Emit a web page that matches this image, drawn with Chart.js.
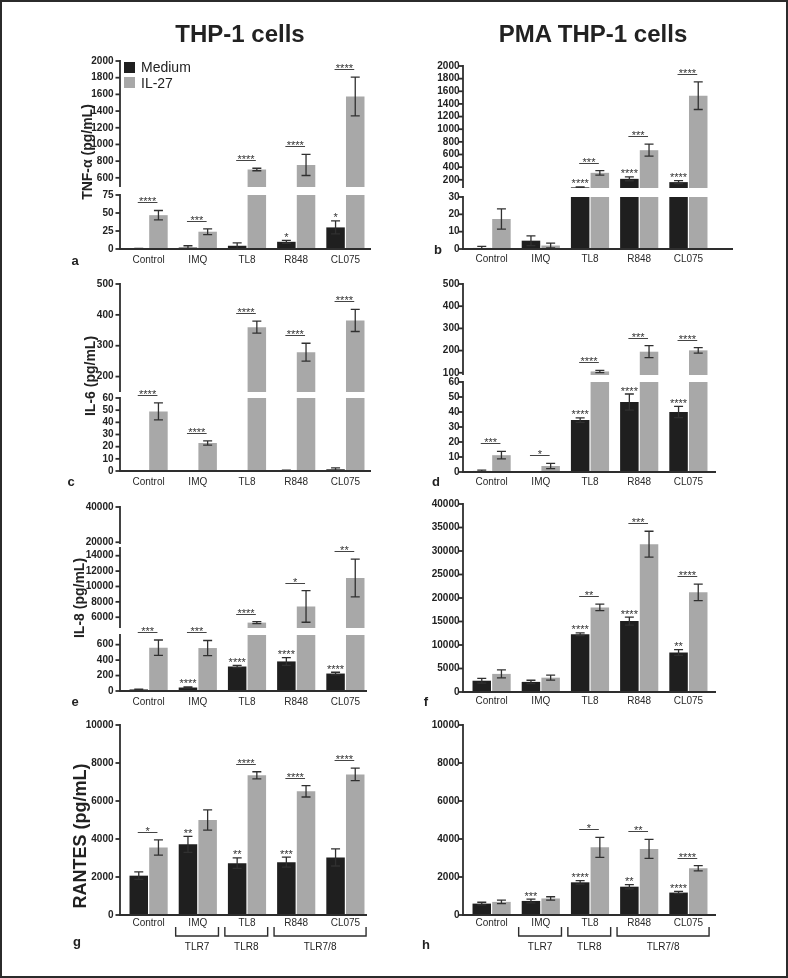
<!DOCTYPE html>
<html><head><meta charset="utf-8">
<script src="https://cdn.jsdelivr.net/npm/chart.js@4.4.1/dist/chart.umd.min.js"></script>
<style>
html,body{margin:0;padding:0;background:#fff;}
#page{position:relative;width:788px;height:978px;overflow:hidden;font-family:"Liberation Sans",Arial,Helvetica,sans-serif;color:#222;background:#fff;}
#frame{position:absolute;left:0;top:0;width:788px;height:978px;box-sizing:border-box;border:2px solid #2b2b2b;pointer-events:none;}
canvas{position:absolute;}
.t{position:absolute;white-space:nowrap;line-height:1;}
.c{transform:translate(-50%,-50%);}
.r{transform:translate(-50%,-50%) rotate(-90deg);}
</style></head><body><div id="page"><div id="frame"></div></div>
<script>
// ---------- data ----------
const categories = ['Control', 'IMQ', 'TL8', 'R848', 'CL075'];
const seriesNames = ['Medium', 'IL-27'];
const columnTitles = ['THP-1 cells', 'PMA THP-1 cells'];

// a: TNF-alpha, THP-1
const aMedium = [0.5, 2, 4.5, 10, 30];
const aMediumErr = [0.3, 2.5, 4, 2, 9];
const aIL27 = [47, 24, 700, 755, 1575];
const aIL27Err = [6.5, 4, 15, 127, 232];
const aMedSig = ['', '', '', '*', '*'];
const aPairSig = ['****', '***', '****', '****', '****'];
const aUpperTicks = [600, 800, 1000, 1200, 1400, 1600, 1800, 2000];
const aLowerTicks = [0, 25, 50, 75];

// b: TNF-alpha, PMA THP-1
const bMedium = [0.6, 4.8, 80, 215, 163];
const bMediumErr = [0.9, 2.8, 6, 30, 25];
const bIL27 = [17.3, 2, 310, 668, 1530];
const bIL27Err = [5.8, 1.4, 35, 95, 218];
const bMedSig = ['', '', '****', '****', '****'];
const bPairSig = ['', '', '***', '***', '****'];
const bUpperTicks = [200, 400, 600, 800, 1000, 1200, 1400, 1600, 1800, 2000];
const bLowerTicks = [0, 10, 20, 30];

// c: IL-6, THP-1
const cMedium = [0, 0, 0, 0.4, 1.4];
const cMediumErr = [0, 0, 0, 0.3, 1.2];
const cIL27 = [49, 23, 360, 279, 382];
const cIL27Err = [7, 1.7, 19.5, 29, 36];
const cMedSig = ['', '', '', '', ''];
const cPairSig = ['****', '****', '****', '****', '****'];
const cUpperTicks = [200, 300, 400, 500];
const cLowerTicks = [0, 10, 20, 30, 40, 50, 60];

// d: IL-6, PMA THP-1
const dMedium = [0.7, 0, 34.6, 46.6, 40];
const dMediumErr = [0.6, 0, 1.5, 5.4, 3.7];
const dIL27 = [11.2, 4, 106, 195, 201];
const dIL27Err = [2.5, 1.7, 5, 27, 12];
const dMedSig = ['', '', '****', '****', '****'];
const dPairSig = ['***', '*', '****', '***', '****'];
const dUpperTicks = [100, 200, 300, 400, 500];
const dLowerTicks = [0, 10, 20, 30, 40, 50, 60];

// e: IL-8, THP-1
const eMedium = [20, 45, 317, 383, 226];
const eMediumErr = [3, 8, 15, 50, 17];
const eIL27 = [560, 556, 5300, 7400, 11100];
const eIL27Err = [100, 98, 130, 2050, 2450];
const eMedSig = ['', '****', '****', '****', '****'];
const ePairSig = ['***', '***', '****', '*', '**'];
const eTopTicks = [20000, 40000];
const eMidTicks = [6000, 8000, 10000, 12000, 14000];
const eLowTicks = [0, 200, 400, 600];

// f: IL-8, PMA THP-1
const fMedium = [2400, 2150, 12300, 15100, 8400];
const fMediumErr = [500, 350, 280, 850, 620];
const fIL27 = [3850, 3050, 18000, 31450, 21200];
const fIL27Err = [850, 530, 700, 2750, 1750];
const fMedSig = ['', '', '****', '****', '**'];
const fPairSig = ['', '', '**', '***', '****'];
const fTicks = [0, 5000, 10000, 15000, 20000, 25000, 30000, 35000, 40000];

// g: RANTES, THP-1
const gMedium = [2070, 3720, 2730, 2780, 3030];
const gMediumErr = [195, 420, 280, 265, 450];
const gIL27 = [3550, 5000, 7350, 6510, 7400];
const gIL27Err = [400, 530, 190, 300, 330];
const gMedSig = ['', '**', '**', '***', ''];
const gPairSig = ['*', '', '****', '****', '****'];
const gTicks = [0, 2000, 4000, 6000, 8000, 10000];

// h: RANTES, PMA THP-1
const hMedium = [600, 740, 1720, 1490, 1180];
const hMediumErr = [70, 100, 90, 110, 60];
const hIL27 = [690, 870, 3560, 3480, 2460];
const hIL27Err = [90, 90, 530, 500, 140];
const hMedSig = ['', '***', '****', '**', '****'];
const hPairSig = ['', '', '*', '**', '****'];
const hTicks = [0, 2000, 4000, 6000, 8000, 10000];

// receptor brackets under g and h
const bracketLabels = ['TLR7', 'TLR8', 'TLR7/8'];
const bracketStart = [1, 2, 3];
const bracketEnd = [1, 2, 4];

const yTitles = ['TNF-α (pg/mL)', 'IL-6 (pg/mL)', 'IL-8 (pg/mL)', 'RANTES (pg/mL)'];
const panelLetters = ['a', 'b', 'c', 'd', 'e', 'f', 'g', 'h'];

// ---------- styling / layout ----------
const FONT = "'Liberation Sans', Arial, Helvetica, sans-serif";
const MED_COLOR = '#1f1f1f';
const IL_COLOR = '#a8a8a8';
const ERR_COLOR = '#303030';
const AXIS_COLOR = '#2e2e2e';
const TEXT_COLOR = '#222';

const COLS = [
  {cx: 55, cw: 325, chartLeft: 124, chartRight: 370, yPad: 10.5, gap: 4},
  {cx: 400, cw: 345, chartLeft: 467, chartRight: 713, yPad: 7.5, gap: 4}
];

const panels = [
  {col: 0, medium: aMedium, mediumErr: aMediumErr, il27: aIL27, il27Err: aIL27Err, medSig: aMedSig, pairSig: aPairSig, xPad: 5.5, xEnd: 371,
   sections: [{min: 490, max: 2000, ticks: aUpperTicks, top: 61, bottom: 187}, {min: 0, max: 75, ticks: aLowerTicks, top: 195, bottom: 249, xAxis: true}]},
  {col: 1, medium: bMedium, mediumErr: bMediumErr, il27: bIL27, il27Err: bIL27Err, medSig: bMedSig, pairSig: bPairSig, xPad: 4, xEnd: 733,
   sections: [{min: 70, max: 2000, ticks: bUpperTicks, top: 66, bottom: 188}, {min: 0, max: 30, ticks: bLowerTicks, top: 197, bottom: 249, xAxis: true}]},
  {col: 0, medium: cMedium, mediumErr: cMediumErr, il27: cIL27, il27Err: cIL27Err, medSig: cMedSig, pairSig: cPairSig, xPad: 5.5, xEnd: 371,
   sections: [{min: 150, max: 500, ticks: cUpperTicks, top: 284, bottom: 392}, {min: 0, max: 60, ticks: cLowerTicks, top: 398, bottom: 471, xAxis: true}]},
  {col: 1, medium: dMedium, mediumErr: dMediumErr, il27: dIL27, il27Err: dIL27Err, medSig: dMedSig, pairSig: dPairSig, xPad: 4, xEnd: 716,
   sections: [{min: 90, max: 500, ticks: dUpperTicks, top: 284, bottom: 375}, {min: 0, max: 60, ticks: dLowerTicks, top: 382, bottom: 472, xAxis: true}]},
  {col: 0, medium: eMedium, mediumErr: eMediumErr, il27: eIL27, il27Err: eIL27Err, medSig: eMedSig, pairSig: ePairSig, xPad: 5.5, xEnd: 367,
   sections: [{min: 19000, max: 40000, ticks: eTopTicks, top: 507, bottom: 544}, {min: 4600, max: 15000, ticks: eMidTicks, top: 548, bottom: 628}, {min: 0, max: 725, ticks: eLowTicks, top: 635, bottom: 691, xAxis: true}]},
  {col: 1, medium: fMedium, mediumErr: fMediumErr, il27: fIL27, il27Err: fIL27Err, medSig: fMedSig, pairSig: fPairSig, xPad: 3, xEnd: 716,
   sections: [{min: 0, max: 40000, ticks: fTicks, top: 504, bottom: 692, xAxis: true}]},
  {col: 0, medium: gMedium, mediumErr: gMediumErr, il27: gIL27, il27Err: gIL27Err, medSig: gMedSig, pairSig: gPairSig, xPad: 2.5, xEnd: 367, brackets: true,
   sections: [{min: 0, max: 10000, ticks: gTicks, top: 725, bottom: 915, xAxis: true}]},
  {col: 1, medium: hMedium, mediumErr: hMediumErr, il27: hIL27, il27Err: hIL27Err, medSig: hMedSig, pairSig: hPairSig, xPad: 2.5, xEnd: 716, brackets: true,
   sections: [{min: 0, max: 10000, ticks: hTicks, top: 725, bottom: 915, xAxis: true}]}
];

const page = document.getElementById('page');

function sectionPlugin(p, s, col) {
  return {
    id: 'section',
    afterDatasetsDraw(chart) {
      const ctx = chart.ctx, ca = chart.chartArea;
      const xs = chart.scales.x, ys = chart.scales.y;
      const m0 = chart.getDatasetMeta(0), m1 = chart.getDatasetMeta(1);
      const inRange = v => v >= s.min && v <= s.max;

      // error bars (clipped to this section)
      ctx.save();
      ctx.beginPath();
      ctx.rect(ca.left, ca.top - 1, ca.right - ca.left, ca.bottom - ca.top + 1);
      ctx.clip();
      ctx.strokeStyle = ERR_COLOR;
      ctx.lineWidth = 1.3;
      [[m0, p.medium, p.mediumErr], [m1, p.il27, p.il27Err]].forEach(([meta, vals, errs]) => {
        vals.forEach((v, j) => {
          const e = errs[j];
          if (!e) return;
          const x = meta.data[j].x;
          const yt = ys.getPixelForValue(v + e);
          const yb = ys.getPixelForValue(Math.max(v - e, 0));
          const hw = 4.5;
          ctx.beginPath();
          ctx.moveTo(x, yt); ctx.lineTo(x, yb);
          ctx.moveTo(x - hw, yt); ctx.lineTo(x + hw, yt);
          ctx.moveTo(x - hw, yb); ctx.lineTo(x + hw, yb);
          ctx.stroke();
        });
      });
      ctx.restore();

      // axes
      ctx.save();
      ctx.strokeStyle = AXIS_COLOR;
      ctx.lineWidth = 1.8;
      const ax = ca.left - col.gap;
      ctx.beginPath();
      ctx.moveTo(ax, ca.top - 0.9);
      ctx.lineTo(ax, ca.bottom + (s.xAxis ? 0.9 : 0));
      ctx.stroke();
      ys.ticks.forEach(t => {
        const y = ys.getPixelForValue(t.value);
        ctx.beginPath(); ctx.moveTo(ax - 4.5, y); ctx.lineTo(ax, y); ctx.stroke();
      });
      if (s.xAxis) {
        ctx.beginPath();
        ctx.moveTo(ax - 0.9, ca.bottom);
        ctx.lineTo(p.xEnd - col.cx, ca.bottom);
        ctx.stroke();
      }
      ctx.restore();

      // significance marks
      ctx.save();
      ctx.fillStyle = '#333';
      ctx.strokeStyle = '#444';
      ctx.lineWidth = 1;
      ctx.font = '11px ' + FONT;
      ctx.textAlign = 'center';
      ctx.textBaseline = 'alphabetic';
      categories.forEach((c, j) => {
        const mx = m0.data[j].x, ix = m1.data[j].x;
        const mt = p.medium[j] + p.mediumErr[j];
        if (p.medSig[j] && inRange(mt)) {
          ctx.fillText(p.medSig[j], mx, ys.getPixelForValue(mt) + 0.5);
        }
        if (p.pairSig[j]) {
          const hi = Math.max(p.il27[j] + p.il27Err[j], mt);
          if (inRange(hi)) {
            const ly = Math.round(ys.getPixelForValue(hi) - 8) + 0.5;
            ctx.beginPath(); ctx.moveTo(mx - 1, ly); ctx.lineTo(ix - 1, ly); ctx.stroke();
            ctx.fillText(p.pairSig[j], (mx + ix) / 2 - 1, ly + 2.6);
          }
        }
      });
      ctx.restore();

      // receptor brackets
      if (s.xAxis && p.brackets) {
        ctx.save();
        ctx.strokeStyle = AXIS_COLOR;
        ctx.lineWidth = 1.4;
        ctx.fillStyle = TEXT_COLOR;
        ctx.font = '10px ' + FONT;
        ctx.textAlign = 'center';
        ctx.textBaseline = 'middle';
        const slot = xs.getPixelForValue(1) - xs.getPixelForValue(0);
        bracketLabels.forEach((lab, k) => {
          const x1 = xs.getPixelForValue(bracketStart[k]) - 0.45 * slot;
          const x2 = xs.getPixelForValue(bracketEnd[k]) + 0.42 * slot;
          const yb = ca.bottom + 21, yt = ca.bottom + 12;
          ctx.beginPath();
          ctx.moveTo(x1, yt); ctx.lineTo(x1, yb); ctx.lineTo(x2, yb); ctx.lineTo(x2, yt);
          ctx.stroke();
          ctx.fillText(lab, (x1 + x2) / 2, ca.bottom + 32.5);
        });
        ctx.restore();
      }
    }
  };
}

function makeSection(p, s) {
  const col = COLS[p.col];
  const padTop = 20;
  const padBottom = s.xAxis ? 0 : 18;
  const xh = s.xAxis ? (p.brackets ? 55 : 22) : 0;
  const ch = (s.bottom - s.top) + padTop + padBottom + xh;
  const canvas = document.createElement('canvas');
  canvas.width = col.cw;
  canvas.height = ch;
  canvas.style.left = col.cx + 'px';
  canvas.style.top = (s.top - padTop) + 'px';
  canvas.style.width = col.cw + 'px';
  canvas.style.height = ch + 'px';
  page.insertBefore(canvas, document.getElementById('frame'));
  new Chart(canvas, {
    type: 'bar',
    data: {
      labels: categories,
      datasets: [
        {label: seriesNames[0], data: p.medium, backgroundColor: MED_COLOR, clip: 0, borderWidth: 0},
        {label: seriesNames[1], data: p.il27, backgroundColor: IL_COLOR, clip: 0, borderWidth: 0}
      ]
    },
    options: {
      responsive: false,
      animation: false,
      devicePixelRatio: 1,
      layout: {padding: {left: 0, right: col.cw - (col.chartRight - col.cx), top: padTop, bottom: padBottom}},
      datasets: {bar: {categoryPercentage: 0.8, barPercentage: 0.94}},
      plugins: {legend: {display: false}, tooltip: {enabled: false}},
      scales: {
        x: {
          display: !!s.xAxis,
          grid: {display: false, drawTicks: false},
          border: {display: false},
          ticks: {padding: p.xPad, color: '#2a2a2a', font: {family: FONT, size: 10}, autoSkip: false, maxRotation: 0},
          afterFit(sc) { sc.height = xh; }
        },
        y: {
          min: s.min, max: s.max, bounds: 'data',
          grid: {display: false, drawTicks: false},
          border: {display: false},
          ticks: {padding: col.yPad, color: TEXT_COLOR, font: {family: FONT, size: 10, weight: 'bold'}, autoSkip: false, callback: v => String(v)},
          afterBuildTicks(sc) { sc.ticks = s.ticks.map(v => ({value: v})); },
          afterFit(sc) { sc.width = col.chartLeft - col.cx; }
        }
      }
    },
    plugins: [sectionPlugin(p, s, col)]
  });
}

panels.forEach(p => p.sections.forEach(s => makeSection(p, s)));

// ---------- text ----------
function addText(txt, x, y, css, cls) {
  const d = document.createElement('div');
  d.className = 't ' + (cls || 'c');
  d.textContent = txt;
  d.style.left = x + 'px';
  d.style.top = y + 'px';
  Object.assign(d.style, css || {});
  page.insertBefore(d, document.getElementById('frame'));
  return d;
}
addText(columnTitles[0], 240, 34, {fontSize: '24px', fontWeight: 'bold'});
addText(columnTitles[1], 593, 34, {fontSize: '24px', fontWeight: 'bold'});

// legend
[[MED_COLOR, 67], [IL_COLOR, 82.5]].forEach(([color, cy], i) => {
  const sq = document.createElement('div');
  Object.assign(sq.style, {position: 'absolute', left: '124px', top: (cy - 5.5) + 'px', width: '11px', height: '11px', background: color});
  page.insertBefore(sq, document.getElementById('frame'));
  addText(seriesNames[i], 141, cy, {fontSize: '14px', transform: 'translate(0,-50%)'});
});

// y-axis titles
addText(yTitles[0], 87, 152, {fontSize: '14px', fontWeight: 'bold'}, 'r');
addText(yTitles[1], 90, 376, {fontSize: '14px', fontWeight: 'bold'}, 'r');
addText(yTitles[2], 79, 598, {fontSize: '14px', fontWeight: 'bold'}, 'r');
addText(yTitles[3], 80, 836, {fontSize: '18px', fontWeight: 'bold'}, 'r');

// panel letters
const letterPos = [[75, 260], [438, 249], [71, 481], [436, 481], [75, 701], [426, 701], [77, 941], [426, 944]];
panelLetters.forEach((l, i) => addText(l, letterPos[i][0], letterPos[i][1], {fontSize: '13px', fontWeight: 'bold'}));
</script>
</body></html>
